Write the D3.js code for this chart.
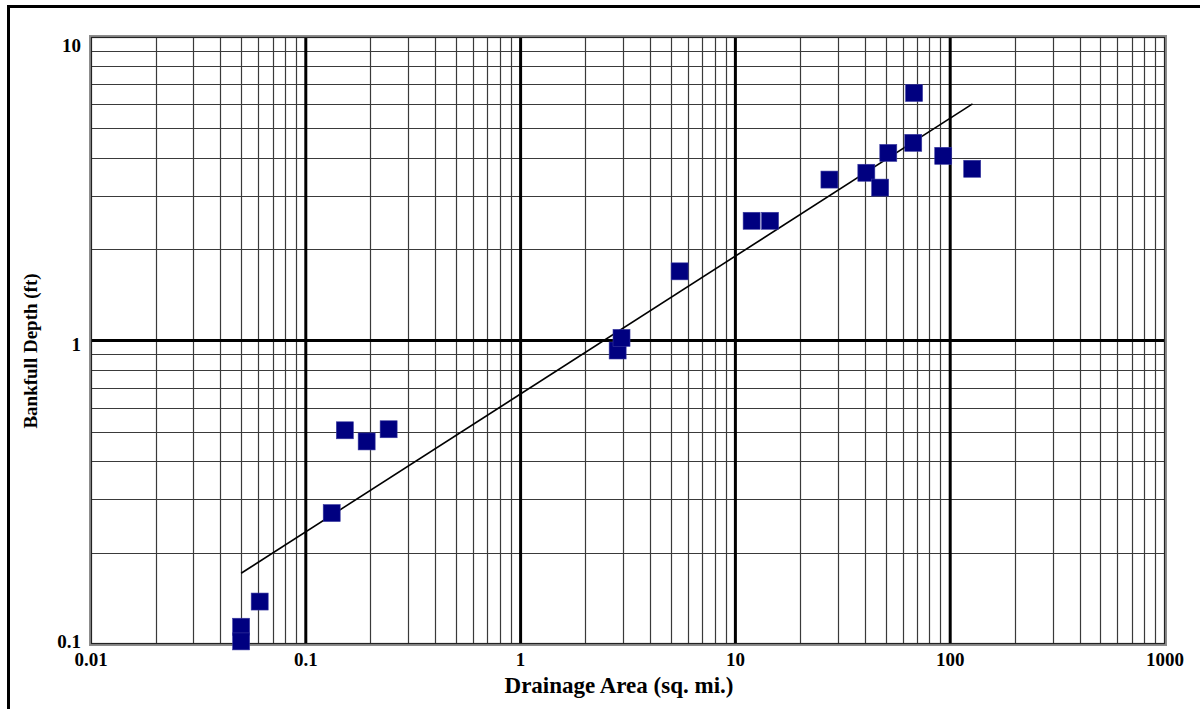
<!DOCTYPE html>
<html>
<head>
<meta charset="utf-8">
<script src="https://cdn.jsdelivr.net/npm/d3@7"></script>
<style>
  html, body { margin: 0; padding: 0; background: #fff; }
  svg { display: block; }
  text { font-family: "Liberation Serif", "DejaVu Serif", serif; font-weight: bold; fill: #000; }
</style>
</head>
<body>
<svg id="chart" width="1200" height="709"></svg>
<script>
// Data: drainage area (sq. mi.) vs bankfull depth (ft)
const drainageArea = [0.05, 0.05, 0.061, 0.132, 0.152, 0.192, 0.243, 2.83, 2.95, 5.5, 11.9, 14.5, 27.4, 40.7, 47.2, 51.5, 67.3, 67.9, 92.8, 126.6];
const bankfullDepth = [0.114, 0.102, 0.138, 0.27, 0.506, 0.465, 0.51, 0.927, 1.02, 1.69, 2.48, 2.48, 3.39, 3.57, 3.19, 4.15, 4.48, 6.54, 4.06, 3.68];
// Trend line endpoints
const trendX = [0.05, 127];
const trendY = [0.171, 6.02];
// Tick labels
const xTicks = [0.01, 0.1, 1, 10, 100, 1000];
const xTickLabels = ["0.01", "0.1", "1", "10", "100", "1000"];
const yTicks = [0.1, 1, 10];
const yTickLabels = ["0.1", "1", "10"];
const xTitle = "Drainage Area (sq. mi.)";
const yTitle = "Bankfull Depth (ft)";

const svg = d3.select("#chart");
const pL = 91, pR = 1165, pT = 37, pB = 644;
const x = d3.scaleLog().domain([0.01, 1000]).range([pL, pR]);
const y = d3.scaleLog().domain([0.1, 10]).range([pB, pT]);

// outer border (left and top visible)
svg.append("rect").attr("x", 8.5).attr("y", 6.5).attr("width", 1300).attr("height", 800)
  .attr("fill", "none").attr("stroke", "#000").attr("stroke-width", 3);

const g = svg.append("g");

// minor grid values
const xMinor = [], xMajor = [];
[0.01, 0.1, 1, 10, 100].forEach(d => {
  for (let k = 2; k <= 9; k++) xMinor.push(d * k);
  if (d > 0.01) xMajor.push(d);
});
const yMinor = [], yMajor = [1];
[0.1, 1].forEach(d => { for (let k = 2; k <= 9; k++) yMinor.push(d * k); });

g.selectAll("line.xminor").data(xMinor).enter().append("line")
  .attr("x1", d => Math.round(x(d)) + 0.5).attr("x2", d => Math.round(x(d)) + 0.5)
  .attr("y1", pT).attr("y2", pB)
  .attr("stroke", "#3a3a3a").attr("stroke-width", 1.2);
g.selectAll("line.yminor").data(yMinor).enter().append("line")
  .attr("y1", d => Math.round(y(d)) + 0.5).attr("y2", d => Math.round(y(d)) + 0.5)
  .attr("x1", pL).attr("x2", pR)
  .attr("stroke", "#3a3a3a").attr("stroke-width", 1.2);

g.selectAll("line.xmajor").data(xMajor).enter().append("line")
  .attr("x1", d => x(d)).attr("x2", d => x(d))
  .attr("y1", pT).attr("y2", pB)
  .attr("stroke", "#000").attr("stroke-width", 3);
g.selectAll("line.ymajor").data(yMajor).enter().append("line")
  .attr("y1", d => y(d)).attr("y2", d => y(d))
  .attr("x1", pL).attr("x2", pR)
  .attr("stroke", "#000").attr("stroke-width", 3);

// frame
g.append("rect").attr("x", pL - 0.5).attr("y", pT - 0.5)
  .attr("width", pR - pL + 1).attr("height", pB - pT + 1)
  .attr("fill", "none").attr("stroke", "#8c8c8c").attr("stroke-width", 3);
g.append("rect").attr("x", pL + 0.5).attr("y", pT + 0.5)
  .attr("width", pR - pL - 1).attr("height", pB - pT - 1)
  .attr("fill", "none").attr("stroke", "#222").attr("stroke-width", 1.2);

// trend line
const lineData = trendX.map((v, i) => [v, trendY[i]]);
g.append("path").datum(lineData)
  .attr("d", d3.line().x(d => x(d[0])).y(d => y(d[1])))
  .attr("fill", "none").attr("stroke", "#000").attr("stroke-width", 1.6);

// points
const pts = drainageArea.map((v, i) => ({ a: v, d: bankfullDepth[i] }));
const s = 17;
g.selectAll("rect.pt").data(pts).enter().append("rect")
  .attr("x", d => x(d.a) - s / 2).attr("y", d => y(d.d) - s / 2)
  .attr("width", s).attr("height", s)
  .attr("fill", "#000080").attr("stroke", "#3a3aa0").attr("stroke-width", 0.6);

// tick labels
svg.selectAll("text.xt").data(xTicks).enter().append("text")
  .attr("x", d => x(d)).attr("y", 666)
  .attr("text-anchor", "middle").attr("font-size", 19)
  .text((d, i) => xTickLabels[i]);
svg.selectAll("text.yt").data(yTicks).enter().append("text")
  .attr("x", 81).attr("y", d => Math.min(Math.max(y(d) + 10, 52), 648))
  .attr("text-anchor", "end").attr("font-size", 19)
  .text((d, i) => yTickLabels[i]);

// axis titles
svg.append("text").attr("x", 619).attr("y", 693)
  .attr("text-anchor", "middle").attr("font-size", 23).text(xTitle);
svg.append("text").attr("transform", "translate(37,351) rotate(-90)")
  .attr("text-anchor", "middle").attr("font-size", 19).text(yTitle);
</script>
</body>
</html>
